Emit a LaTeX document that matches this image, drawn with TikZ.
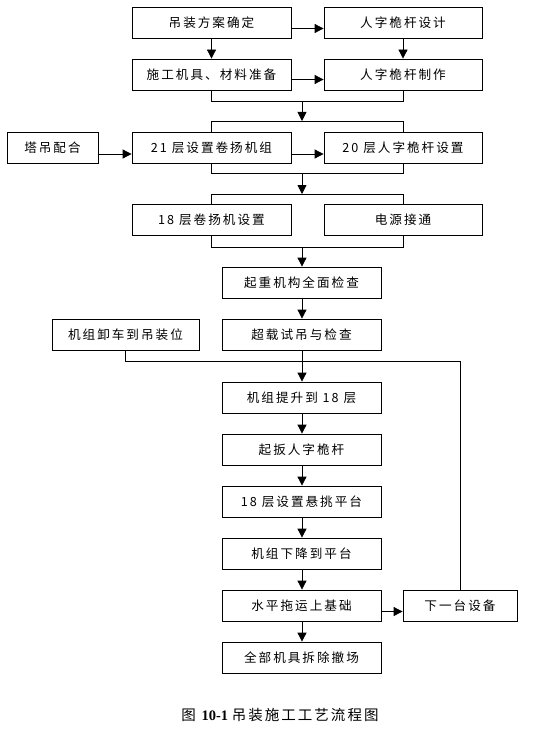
\documentclass[tikz,border=0pt]{standalone}
\usepackage{fontspec}
\setmainfont{Liberation Serif}
\newfontfamily\cjk[LetterSpace=16]{Noto Sans CJK SC}
\newfontfamily\cjkcap[LetterSpace=14]{Noto Sans CJK SC}
\usetikzlibrary{arrows.meta}
\begin{document}
\begin{tikzpicture}[x=1pt,y=-1pt,
  box/.style={draw,line width=0.8pt,minimum height=31pt,inner sep=0pt,font=\cjk\fontsize{12.6}{14}\selectfont},
  ln/.style={line width=0.8pt},
  arr/.style={line width=0.8pt,-{Triangle[length=9pt,width=9pt]}}]
\useasboundingbox (0,0) rectangle (554,733);
% nodes
\node[box,minimum width=159pt] (a1) at (211.5,22.5) {吊装方案确定};
\node[box,minimum width=158pt] (b1) at (403,22.5) {人字桅杆设计};
\node[box,minimum width=159pt] (a2) at (211.5,74.5) {施工机具、材料准备};
\node[box,minimum width=158pt] (b2) at (403,74.5) {人字桅杆制作};
\node[box,minimum width=91pt] (c3) at (52.5,148) {塔吊配合};
\node[box,minimum width=159pt] (a3) at (211.5,148) {21 层设置卷扬机组};
\node[box,minimum width=158pt] (b3) at (403,148) {20 层人字桅杆设置};
\node[box,minimum width=159pt] (a4) at (211.5,220) {18 层卷扬机设置};
\node[box,minimum width=158pt] (b4) at (403,220) {电源接通};
\node[box,minimum width=159pt] (m1) at (301.5,282.5) {起重机构全面检查};
\node[box,minimum width=159pt] (m2) at (301.5,334.5) {超载试吊与检查};
\node[box,minimum width=147pt] (l2) at (125.5,334.5) {机组卸车到吊装位};
\node[box,minimum width=159pt] (m3) at (301.5,397.5) {机组提升到 18 层};
\node[box,minimum width=159pt] (m4) at (301.5,449.5) {起扳人字桅杆};
\node[box,minimum width=159pt] (m5) at (301.5,501.5) {18 层设置悬挑平台};
\node[box,minimum width=159pt] (m6) at (301.5,553.5) {机组下降到平台};
\node[box,minimum width=159pt] (m7) at (301.5,605.5) {水平拖运上基础};
\node[box,minimum width=114pt] (r7) at (460,605.5) {下一台设备};
\node[box,minimum width=159pt] (m8) at (301.5,657.5) {全部机具拆除撤场};
\node[font=\fontsize{14.5}{16}\selectfont] (cap) at (280,715) {{\cjkcap 图} \textbf{10-1} {\cjkcap 吊装施工工艺流程图}};
% junction coordinates
\coordinate (j1) at (302,101);
\coordinate (k1) at (302,121);
\coordinate (j2) at (302,173);
\coordinate (k2) at (302,194);
\coordinate (j3) at (302,247);
\coordinate (j4) at (302,361);
% connectors
\draw[arr] ([yshift=-6]a1.east) -- ([yshift=-6]b1.west);
\draw[arr] ([yshift=-5]a2.east) -- ([yshift=-5]b2.west);
\draw[arr] (a1.south) -- (a2.north);
\draw[arr] (b1.south) -- (b2.north);
\draw[ln] (a2.south) -- (a2.south |- j1) -- (b2.south |- j1) -- (b2.south);
\draw[arr] (j1) -- (k1);
\draw[ln] (a3.north) -- (a3.north |- k1) -- (b3.north |- k1) -- (b3.north);
\draw[arr] ([yshift=-6]c3.east) -- ([yshift=-6]a3.west);
\draw[arr] ([yshift=-6]a3.east) -- ([yshift=-6]b3.west);
\draw[ln] (a3.south) -- (a3.south |- j2) -- (b3.south |- j2) -- (b3.south);
\draw[arr] (j2) -- (k2);
\draw[ln] (a4.north) -- (a4.north |- k2) -- (b4.north |- k2) -- (b4.north);
\draw[ln] (a4.south) -- (a4.south |- j3) -- (b4.south |- j3) -- (b4.south);
\draw[arr] (j3) -- (m1.north -| j3);
\draw[arr] (m1.south -| j3) -- (m2.north -| j3);
\draw[arr] (m2.south -| j3) -- (m3.north -| j3);
\draw[ln] (l2.south) -- (l2.south |- j4) -- (r7.north |- j4) -- (r7.north);
\draw[arr] (m3.south -| j3) -- (m4.north -| j3);
\draw[arr] (m4.south -| j3) -- (m5.north -| j3);
\draw[arr] (m5.south -| j3) -- (m6.north -| j3);
\draw[arr] (m6.south -| j3) -- (m7.north -| j3);
\draw[arr] (m7.south -| j3) -- (m8.north -| j3);
\draw[arr] ([yshift=-6]m7.east) -- ([yshift=-6]r7.west);
\end{tikzpicture}
\end{document}
